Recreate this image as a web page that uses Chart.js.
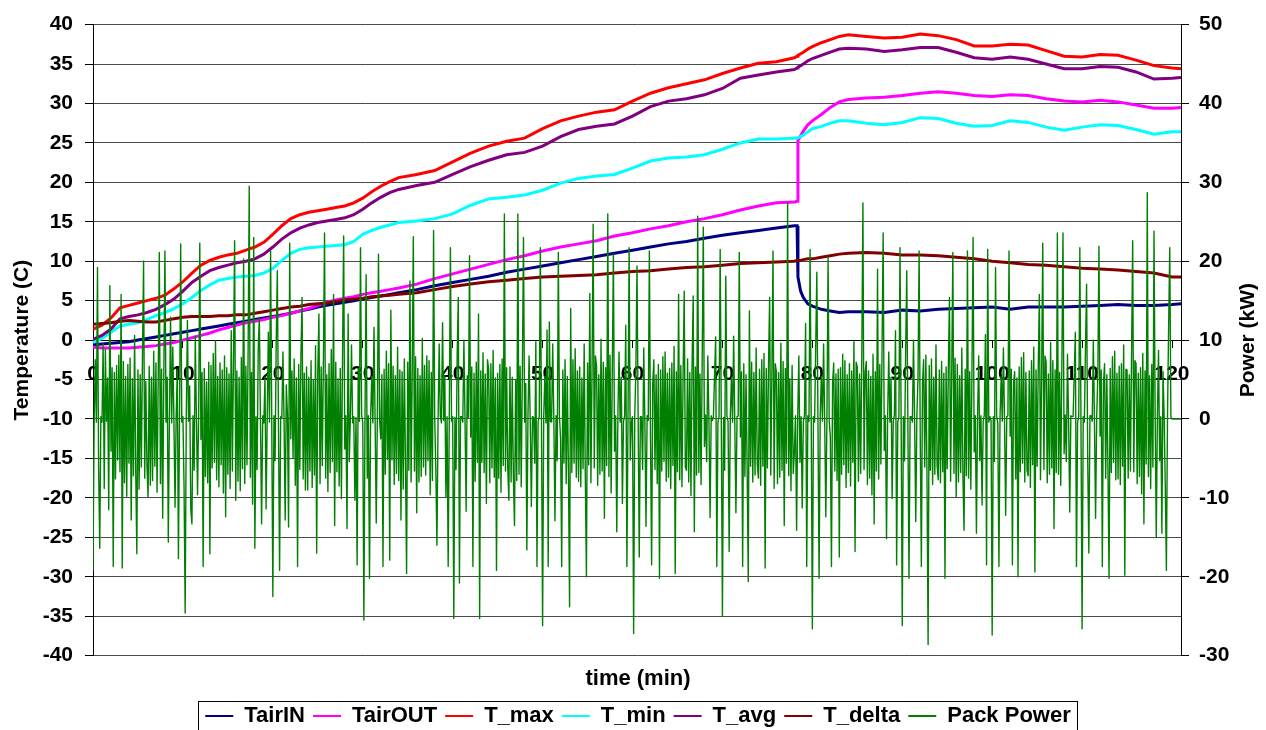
<!DOCTYPE html>
<html>
<head>
<meta charset="utf-8">
<title>Pack temperatures and power</title>
<script src="https://cdn.jsdelivr.net/npm/chart.js@4.4.1/dist/chart.umd.min.js"></script>
<style>
  html, body { margin: 0; padding: 0; background: #fff; }
  #wrap { width: 1266px; height: 730px; }
</style>
</head>
<body>
<div id="wrap"><canvas id="packChart" width="1266" height="730"></canvas></div>
<script>
// sample times (min) for the temperature traces
const tempMinutes = [
  0, 1, 2, 3, 4, 5, 6, 7, 8, 9, 10, 11, 12, 13, 14, 15, 16, 17, 18, 19, 20, 21, 22, 23, 24,
  25, 26, 27, 28, 29, 30, 31, 32, 33, 34,
  36, 38, 40, 42, 44, 46, 48, 50, 52, 54, 56, 58, 60, 62, 64, 66, 68, 70, 72, 74, 76, 78,
  78.3, 78.4, 78.7, 79, 79.5, 80, 81, 82, 83, 84,
  86, 88, 90, 92, 94, 96, 98, 100, 102, 104, 106, 108, 110, 112, 114, 116, 118, 120,
  121
];

const tairIn = [
  -0.6, -0.5, -0.4, -0.3, -0.2, 0.0, 0.2, 0.4, 0.6, 0.8, 1.0, 1.2, 1.4, 1.6, 1.8, 2.0, 2.2, 2.4, 2.6, 2.8, 3.0, 3.2, 3.4, 3.7, 3.9,
  4.2, 4.4, 4.6, 4.8, 5.0, 5.2, 5.4, 5.6, 5.8, 6.0,
  6.4, 6.9, 7.3, 7.7, 8.1, 8.6, 9.0, 9.4, 9.8, 10.2, 10.6, 11.0, 11.4, 11.8, 12.2, 12.5, 12.9, 13.3, 13.6, 13.9, 14.2, 14.5,
  14.5, 8.0, 6.2, 5.4, 4.6, 4.3, 3.9, 3.7, 3.5, 3.6,
  3.6, 3.5, 3.8, 3.7, 3.9, 4.0, 4.1, 4.2, 3.9, 4.2, 4.2, 4.2, 4.3, 4.4, 4.5, 4.4, 4.4, 4.5,
  4.6
];

const tairOut = [
  -0.9, -1.0, -1.0, -1.0, -1.0, -0.9, -0.8, -0.7, -0.5, -0.3, 0.0, 0.3, 0.6, 0.9, 1.3, 1.6, 1.9, 2.2, 2.4, 2.6, 2.9, 3.1, 3.4, 3.7, 4.0,
  4.4, 4.8, 5.1, 5.3, 5.5, 5.8, 6.0, 6.2, 6.4, 6.6,
  7.1, 7.8, 8.4, 9.0, 9.6, 10.2, 10.7, 11.3, 11.8, 12.2, 12.6, 13.2, 13.6, 14.1, 14.5, 15.0, 15.4, 15.9, 16.5, 17.0, 17.4, 17.5,
  17.6, 25.3, 25.9, 26.5, 27.3, 27.8, 28.6, 29.5, 30.2, 30.5,
  30.7, 30.8, 31.0, 31.3, 31.5, 31.3, 31.0, 30.9, 31.1, 31.0, 30.6, 30.3, 30.2, 30.4, 30.2, 29.8, 29.4, 29.4,
  29.5
];

const tMax = [
  1.4, 1.9, 2.8, 4.1, 4.4, 4.7, 5.0, 5.3, 5.7, 6.5, 7.4, 8.5, 9.5, 10.1, 10.5, 10.8, 11.0, 11.4, 11.8, 12.4, 13.4, 14.5, 15.4, 15.9, 16.2,
  16.4, 16.6, 16.8, 17.0, 17.4, 18.0, 18.8, 19.5, 20.1, 20.6,
  21.0, 21.5, 22.6, 23.7, 24.6, 25.2, 25.6, 26.8, 27.8, 28.4, 28.9, 29.2, 30.3, 31.3, 32.0, 32.5, 33.0, 33.8, 34.5, 35.1, 35.3, 35.8,
  36.0, 36.1, 36.3, 36.5, 36.9, 37.2, 37.7, 38.1, 38.5, 38.7,
  38.5, 38.3, 38.4, 38.8, 38.6, 38.1, 37.3, 37.3, 37.5, 37.4, 36.7, 36.0, 35.9, 36.2, 36.1, 35.5, 34.8, 34.5,
  34.4
];

const tMin = [
  -0.3, 0.2, 1.0, 1.8, 2.0, 2.2, 2.6, 3.1, 3.5, 4.0, 4.6, 5.4, 6.3, 7.0, 7.6, 7.8, 8.0, 8.1, 8.2, 8.5, 9.1, 10.1, 11.0, 11.5, 11.7,
  11.8, 11.9, 12.0, 12.1, 12.5, 13.4, 13.9, 14.3, 14.6, 14.9,
  15.1, 15.4, 16.0, 17.1, 17.9, 18.1, 18.4, 19.0, 19.9, 20.5, 20.8, 21.0, 21.8, 22.7, 23.1, 23.2, 23.5, 24.2, 25.0, 25.5, 25.5, 25.6,
  25.6, 25.6, 25.8, 26.0, 26.4, 26.8, 27.1, 27.5, 27.8, 27.8,
  27.5, 27.3, 27.6, 28.2, 28.1, 27.5, 27.1, 27.2, 27.8, 27.6, 27.0, 26.6, 27.0, 27.3, 27.2, 26.7, 26.1, 26.4,
  26.4
];

const tAvg = [
  0.1, 0.6, 1.4, 2.7, 3.0, 3.2, 3.5, 3.9, 4.5, 5.2, 6.2, 7.3, 8.1, 8.8, 9.2, 9.5, 9.8, 10.0, 10.3, 10.9, 11.8, 12.8, 13.6, 14.2, 14.6,
  14.9, 15.1, 15.3, 15.5, 15.9, 16.6, 17.4, 18.1, 18.7, 19.1,
  19.6, 20.0, 21.0, 22.0, 22.8, 23.5, 23.8, 24.6, 25.8, 26.7, 27.1, 27.4, 28.4, 29.6, 30.3, 30.6, 31.1, 31.9, 33.2, 33.6, 34.0, 34.3,
  34.5, 34.6, 34.8, 35.0, 35.4, 35.7, 36.1, 36.5, 36.9, 37.0,
  36.9, 36.6, 36.8, 37.1, 37.1, 36.5, 35.8, 35.6, 35.9, 35.6, 35.0, 34.4, 34.4, 34.7, 34.6, 34.0, 33.1, 33.2,
  33.3
];

const tDelta = [
  2.0, 2.1, 2.2, 2.4, 2.5, 2.4, 2.3, 2.3, 2.5, 2.7, 2.9, 3.0, 3.0, 3.0, 3.1, 3.1, 3.2, 3.2, 3.4, 3.6, 3.8, 4.0, 4.2, 4.3, 4.5,
  4.6, 4.7, 4.9, 5.1, 5.2, 5.3, 5.5, 5.6, 5.7, 5.8,
  6.0, 6.4, 6.8, 7.1, 7.4, 7.6, 7.8, 8.0, 8.1, 8.2, 8.3, 8.5, 8.7, 8.8, 9.0, 9.2, 9.3, 9.5, 9.7, 9.8, 9.9, 10.0,
  10.1, 10.1, 10.1, 10.2, 10.3, 10.3, 10.5, 10.7, 10.9, 11.0,
  11.1, 11.0, 10.8, 10.8, 10.7, 10.5, 10.3, 10.0, 9.8, 9.6, 9.5, 9.3, 9.1, 9.0, 8.9, 8.7, 8.5, 8.0,
  8.0
];

// pack power (kW), one reading every 7.5 s, one row per minute (row 0 = minute 0)
const powerStep = 0.125;
const packPower = [
  -19.2, -0.5, 7.5, -0.4, 19.2, -6.2, -16.4, 0.3,
  -0.4, 9.5, -8.8, 8.8, -0.3, 5.2, -11.5, 16.9,
  -4.1, 6.5, -18.7, 5.9, -7.6, 6.8, -5.2, 8.1,
  -6.7, 15.8, -18.9, 7.3, -8.1, 5.4, -9.8, 6.9,
  -5.6, 7.7, -12.8, 5.1, -7.2, 10.6, -6.4, -17.1,
  6.2, -8.9, 5.6, -6.1, 7.9, 20.0, -7.5, 4.8,
  -5.9, -9.9, 6.7, -8.4, 5.3, -7.8, 8.6, -6.0,
  7.1, -9.3, 4.9, 21.1, -8.2, 6.3, -12.6, 5.7,
  21.3, -0.4, 5.3, -15.6, 0.4, 12.9, -0.5, 9.1,
  -0.3, -11.2, 0.4, 6.2, -17.7, 0.5, 22.2, -0.4,
  // 10
  0.3, -8.5, -24.6, 0.4, 12.5, -0.3, 4.2, -11.4,
  -13.3, 0.4, -6.5, 10.5, 0.3, -9.6, 0.5, 22.3,
  -2.6, 5.9, -18.7, 6.4, -7.3, 4.7, -8.1, 7.2,
  -17.1, 6.8, -6.2, 8.3, -5.5, 9.9, -7.7, 5.4,
  -8.6, 7.1, -5.8, 6.2, -9.4, 8.0, -12.4, 6.5,
  -7.0, 5.7, -8.8, 11.2, -6.6, 7.5, 22.6, -10.3,
  6.1, -7.9, 5.3, -9.1, 7.8, -6.3, 20.3, -8.2,
  6.7, -5.8, 8.4, 29.5, -7.4, 5.9, -10.8, 23.0,
  -16.4, 0.3, -6.4, 8.8, 12.9, -0.3, -13.3, 0.4,
  -0.5, 5.3, -11.4, 0.2, 11.0, -0.4, 21.3, 0.3,
  // 20
  -22.5, 0.4, -5.3, 9.7, 18.8, -0.5, -19.2, 0.3,
  0.2, 8.5, -0.4, -12.8, 4.3, 0.5, -13.7, 22.3,
  -2.5, 6.1, -5.0, 7.6, -8.4, 5.2, -18.7, 6.9,
  -6.4, 8.2, 15.4, -7.6, 5.8, -9.0, 6.6, -9.0,
  5.3, -6.6, 7.4, -8.7, 4.9, -7.1, 9.3, -17.0,
  6.0, 13.3, -8.2, 6.6, -5.9, 7.7, 23.6, -7.5,
  5.6, -9.2, 7.0, -6.8, 8.8, -5.4, 15.8, -13.5,
  7.2, -6.7, 5.1, -8.5, 6.4, -10.1, 8.0, 23.2,
  -3.8, 0.4, -13.9, 13.3, -5.4, 0.3, 9.4, -0.5,
  0.3, -10.3, 0.2, -18.5, 6.4, -0.3, 21.7, 0.5,
  // 30
  -0.4, -25.5, 0.3, 18.3, -7.5, 0.4, -20.2, 0.3,
  5.4, -0.5, 11.6, -0.3, -13.2, 0.4, 20.9, -0.2,
  -2.5, 5.6, -18.7, 6.3, -7.0, 8.6, -5.1, 7.0,
  -17.9, 13.8, -5.2, 6.7, -8.3, 5.5, -6.9, 9.1,
  -7.8, 6.2, -12.8, 6.0, -8.9, 7.6, -5.7, -19.6,
  7.2, -6.5, 17.5, -8.0, 5.8, 23.1, -6.6, 7.9,
  -11.9, 6.4, -8.0, 5.5, -7.3, 10.2, -6.1, 6.8,
  -7.1, 8.0, -5.3, 7.4, -9.6, 5.9, -7.8, 23.9,
  0.4, -6.3, -16.0, -0.3, 9.5, 0.4, -0.5, 12.2,
  -0.2, 5.5, -9.9, 0.3, -18.7, 0.4, 21.7, -0.3,
  // 40
  0.3, -25.3, 0.2, -6.4, 8.1, 15.4, -20.8, 0.3,
  0.3, -0.4, 10.0, -0.3, -11.7, 5.5, 0.2, 20.7,
  -2.3, 6.6, -18.7, 5.8, -7.9, 7.2, -5.5, 13.3,
  -25.3, 6.1, -5.5, 8.4, -6.8, 5.7, -10.7, 7.5,
  6.3, -8.1, 7.0, -6.2, 8.7, -7.4, 5.2, -19.2,
  5.8, -7.5, 6.9, -9.3, 7.6, -5.9, 26.0, -6.6,
  6.5, -6.2, -10.3, 6.6, -8.0, 5.3, -7.2, -13.5,
  5.0, -7.8, 26.0, -7.0, 6.7, -8.6, 5.9, 23.0,
  -0.4, 4.5, -16.6, 0.5, 8.0, -0.3, -11.1, 0.3,
  0.2, -5.6, 9.8, -18.7, -0.4, 0.3, 21.7, -0.2,
  // 50
  -26.2, 0.3, 5.4, -0.5, 11.3, -18.7, 12.3, -0.3,
  -0.4, 9.5, 0.2, -12.9, 0.4, -5.3, 21.1, 0.4,
  -2.5, -18.7, 6.2, -5.6, 7.5, -8.2, 5.4, -6.7,
  -23.8, 14.0, -6.8, 7.5, -5.6, 8.9, -7.4, 6.1,
  -7.9, 6.6, -8.6, 5.2, -6.3, 9.5, -7.1, -20.0,
  7.1, -5.8, 15.9, -8.1, 6.3, 24.7, -6.2, 8.0,
  6.8, -8.4, 5.6, -7.0, 10.1, -6.6, 7.2, -12.6,
  6.5, -5.9, 26.0, -7.3, 8.1, -9.4, 6.0, 20.9,
  -4.1, 0.4, -14.3, 0.5, 8.5, -0.4, 5.3, -10.7,
  -0.3, 0.4, 11.9, -18.7, 0.3, 21.7, -5.2, -0.4,
  // 60
  0.3, -27.2, 0.4, 6.3, 19.4, 0.5, -17.5, 0.3,
  0.3, -6.4, 9.0, -0.3, -13.6, 0.4, -0.2, 21.3,
  -2.2, -18.5, 4.5, 7.5, -6.4, 5.6, -8.2, 6.9,
  -20.2, 6.2, -6.6, 7.9, -5.4, 8.5, -7.9, 5.8,
  -7.4, 6.4, -8.8, 7.1, -5.9, 9.2, -19.6, 6.0,
  -6.7, 15.8, -7.7, 6.8, -8.6, 5.5, 16.2, -6.1,
  -6.5, 7.6, -8.0, 5.9, -9.7, 7.0, 15.6, -14.3,
  6.6, -7.1, 25.7, -6.8, 5.7, -8.3, 7.8, 24.3,
  -3.5, 0.5, -5.4, 8.0, -0.3, -12.5, 0.4, -0.2,
  0.3, 5.5, 10.4, -18.7, -0.4, 0.3, 21.5, -0.3,
  // 70
  -25.0, 0.2, -6.5, 18.1, 0.4, -0.3, -16.8, 0.3,
  5.3, -0.4, 10.5, -0.5, -11.9, 0.3, 0.4, 21.1,
  -2.3, 6.0, -18.7, 7.0, -7.3, 5.6, -6.4, -20.6,
  13.7, -6.0, 7.2, -8.0, 5.9, -7.1, 9.0, -5.7,
  -7.5, 6.3, -8.4, 7.5, -6.0, 8.3, -18.9, 6.4,
  -6.2, 6.7, 15.4, -7.1, 5.6, 21.3, -8.8, 7.0,
  6.0, -8.2, 5.9, -7.4, 9.6, -6.5, 7.3, -13.5,
  6.4, -5.6, 27.4, -7.2, 5.1, -9.1, 6.8, -6.9,
  -4.3, 0.4, -14.1, 0.4, 8.0, -5.5, 0.3, -11.3,
  -0.3, 0.5, 12.1, -18.7, 0.4, -0.3, 21.5, -0.2,
  // 80
  -26.6, 0.3, -0.4, 9.2, 18.6, -0.3, -20.2, 0.4,
  5.4, -0.3, 9.5, -0.4, -12.4, 0.3, 20.5, -0.3,
  -2.2, -18.7, 4.5, 7.1, -6.6, 5.7, -7.8, 6.3,
  -17.5, 6.5, -7.0, 8.2, -5.8, 7.4, -8.7, 5.6,
  -6.8, 7.0, -8.5, 6.1, -5.5, 9.8, -16.8, 7.2,
  6.6, -7.9, 5.7, -6.9, 8.0, 27.4, -6.4, 5.9,
  7.3, -8.3, 6.1, -7.5, 5.4, -9.6, 8.2, -13.3,
  6.0, -6.6, 19.0, -7.6, 6.9, -5.7, 8.5, 23.6,
  -4.0, 0.4, -15.2, 0.4, 8.5, -0.4, 5.3, -10.1,
  -0.3, 0.5, 11.2, -18.5, -0.4, 0.3, 21.7, -0.2,
  // 90
  -26.2, 0.3, -5.3, 8.4, 18.8, -0.4, -20.2, 0.3,
  0.3, -0.4, 10.0, -0.3, -13.0, 0.4, 5.2, 21.3,
  -2.3, -18.7, 4.6, 7.5, -6.1, 8.1, -7.2, -28.6,
  6.8, -6.5, 7.6, -8.3, 5.3, -7.0, 9.4, -5.9,
  -7.7, 6.2, -8.1, 7.3, -6.7, 5.8, -20.2, 6.6,
  -6.3, 6.5, 15.4, -7.9, 5.6, 21.1, -6.9, 7.7,
  -9.9, 6.9, -8.0, 5.5, -6.8, 9.0, -7.6, -14.1,
  6.3, -7.2, 21.3, -7.5, 6.0, -8.9, 5.7, 23.0,
  -4.2, 0.4, -14.5, 0.5, 8.0, -5.3, 0.4, -10.9,
  -0.3, 0.5, 10.7, -18.5, 21.5, -0.4, 0.3, -0.2,
  // 100
  -27.4, 0.3, -5.4, 19.2, 0.3, -0.5, -18.7, 0.3,
  5.4, -0.3, 9.0, -0.4, -12.2, 0.3, 0.4, 21.3,
  -2.2, 6.3, -18.5, 4.5, 6.0, -7.6, 5.2, -20.0,
  6.6, -6.7, 7.8, -5.6, 8.4, -8.0, 5.9, -6.5,
  -7.2, 6.1, -8.7, 7.4, -5.8, 9.1, -19.4, 6.2,
  -6.0, 6.7, 15.8, -7.7, 5.5, 22.3, -6.4, 8.0,
  7.2, -8.1, 5.7, -7.0, 9.7, -6.2, 7.4, -13.9,
  6.2, -6.8, 23.6, -7.0, 5.9, -8.4, 7.1, 23.6,
  -4.4, 0.5, -5.4, 8.2, -0.3, -11.8, 0.4, 0.3,
  0.3, 5.5, 11.0, -18.7, -0.4, 0.3, 21.7, -0.3,
  // 110
  -26.6, 0.3, -0.4, 8.9, 17.1, -5.3, -17.0, 0.4,
  0.4, -0.3, 10.0, -0.4, -12.6, 0.3, 5.5, 21.9,
  -2.2, 6.2, -18.7, 4.5, 7.0, -7.5, 5.6, -6.3,
  -20.2, 6.4, -6.8, 7.9, -5.5, 8.6, -7.7, 5.8,
  -7.6, 6.7, -8.3, 7.0, -6.0, 9.4, -19.8, 6.3,
  6.2, -7.5, 5.6, -6.6, 8.1, 22.6, -6.7, 7.4,
  7.0, -8.2, 5.8, -7.3, 6.5, -9.5, 8.3, -13.3,
  6.1, -5.7, 28.7, -7.3, 5.5, -8.8, 6.9, -6.1,
  23.8, 0.4, -15.0, 0.4, 8.7, -5.3, 0.3, -14.5,
  6.0, 0.3, -8.4, -19.2, 0.4, 11.8, 21.7, 0.3,
  // 120
  0, 0, 0, 0, 0, 0, 0, 0,
  0
];

const timeTicks = [0, 10, 20, 30, 40, 50, 60, 70, 80, 90, 100, 110, 120];

const FONT = '"Liberation Sans", Arial, sans-serif';
const tickFont = { family: FONT, size: 21, weight: 'bold' };
const titleFont = { family: FONT, size: 21, weight: 'bold' };

function pairUp(times, values) {
    return values.map((v, i) => ({ x: times[i], y: v }));
}

function tempLine(label, values, color, order) {
    return {
        label: label,
        data: pairUp(tempMinutes, values),
        borderColor: color,
        backgroundColor: color,
        borderWidth: 3,
        pointRadius: 0,
        xAxisID: 'x',
        yAxisID: 'y',
        order: order
    };
}

let powerData = packPower.map((v, i) => ({ x: i * powerStep, y: v }));

// right axis title reads bottom to top like the left one, plus the frame round the legend
const chartExtras = {
    id: 'chartExtras',
    afterDraw(chart) {
        const ctx = chart.ctx;
        const area = chart.chartArea;
        ctx.save();
        ctx.translate(1248, (area.top + area.bottom) / 2);
        ctx.rotate(-Math.PI / 2);
        ctx.font = 'bold 21px ' + FONT;
        ctx.fillStyle = '#000';
        ctx.textAlign = 'center';
        ctx.textBaseline = 'middle';
        ctx.fillText('Power (kW)', 0, 0);
        ctx.restore();

        const boxes = chart.legend.legendHitBoxes;
        if (boxes && boxes.length) {
            const last = boxes[boxes.length - 1];
            const left = Math.round(boxes[0].left - 7) + 0.5;
            const right = Math.round(last.left + last.width + 6) + 0.5;
            const top = Math.round(chart.legend.top + 4) + 0.5;
            ctx.save();
            ctx.strokeStyle = '#000';
            ctx.lineWidth = 1;
            ctx.strokeRect(left, top, right - left, 760 - top);
            ctx.restore();
        }
    }
};

let ctx = document.getElementById('packChart').getContext('2d');
let packChart = new Chart(ctx, {
    type: 'line',
    data: {
        datasets: [
            tempLine('TairIN', tairIn, '#000080', 7),
            tempLine('TairOUT', tairOut, '#ff00ff', 6),
            tempLine('T_max', tMax, '#ff0000', 5),
            tempLine('T_min', tMin, '#00ffff', 4),
            tempLine('T_avg', tAvg, '#800080', 3),
            tempLine('T_delta', tDelta, '#800000', 2),
            {
                label: 'Pack Power',
                data: powerData,
                borderColor: '#008000',
                backgroundColor: '#008000',
                borderWidth: 1.4,
                borderJoinStyle: 'round',
                pointRadius: 0,
                xAxisID: 'x',
                yAxisID: 'y2',
                order: 1
            }
        ]
    },
    plugins: [chartExtras],
    options: {
        responsive: false,
        animation: false,
        devicePixelRatio: 1,
        layout: {
            padding: { top: 23, left: 10, right: 0, bottom: -7 }
        },
        scales: {
            x: {
                type: 'linear',
                min: 0,
                max: 121,
                position: { y: 0 },
                z: 1,
                afterBuildTicks: function (scale) {
                    scale.ticks = timeTicks.map(v => ({ value: v }));
                },
                ticks: { font: tickFont, color: '#000', padding: 15, maxRotation: 0, autoSkip: false },
                grid: { drawOnChartArea: false, tickLength: 7, tickColor: '#000' },
                border: { color: '#000' }
            },
            y: {
                type: 'linear',
                position: 'left',
                min: -40,
                max: 40,
                ticks: { stepSize: 5, font: tickFont, color: '#000', padding: 12 },
                grid: { color: '#4a4a4a', tickColor: '#000', tickLength: 8 },
                border: { color: '#000' },
                title: {
                    display: true,
                    text: 'Temperature (C)',
                    font: titleFont,
                    color: '#000',
                    padding: { top: 0, bottom: 0 }
                },
                afterFit: function (scale) { scale.width = 83; }
            },
            y2: {
                type: 'linear',
                position: 'right',
                min: -30,
                max: 50,
                ticks: { stepSize: 10, font: tickFont, color: '#000', padding: 10 },
                grid: { drawOnChartArea: false, tickColor: '#000', tickLength: 8 },
                border: { color: '#000' },
                afterFit: function (scale) { scale.width = 85; }
            }
        },
        plugins: {
            title: {
                display: true,
                text: 'time (min)',
                position: 'bottom',
                weight: 500,
                color: '#000',
                font: { family: FONT, size: 22, weight: 'bold' },
                padding: { top: 10, bottom: 5 }
            },
            legend: {
                position: 'bottom',
                labels: {
                    usePointStyle: true,
                    pointStyle: 'line',
                    pointStyleWidth: 28,
                    color: '#000',
                    padding: 8,
                    font: { family: FONT, size: 22, weight: 'bold' },
                    sort: (a, b) => a.datasetIndex - b.datasetIndex,
                    generateLabels: function (chart) {
                        const items = Chart.defaults.plugins.legend.labels.generateLabels(chart);
                        items.forEach(item => { item.lineWidth = 2; });
                        return items;
                    }
                }
            },
            tooltip: { enabled: false }
        }
    }
});
</script>
</body>
</html>
